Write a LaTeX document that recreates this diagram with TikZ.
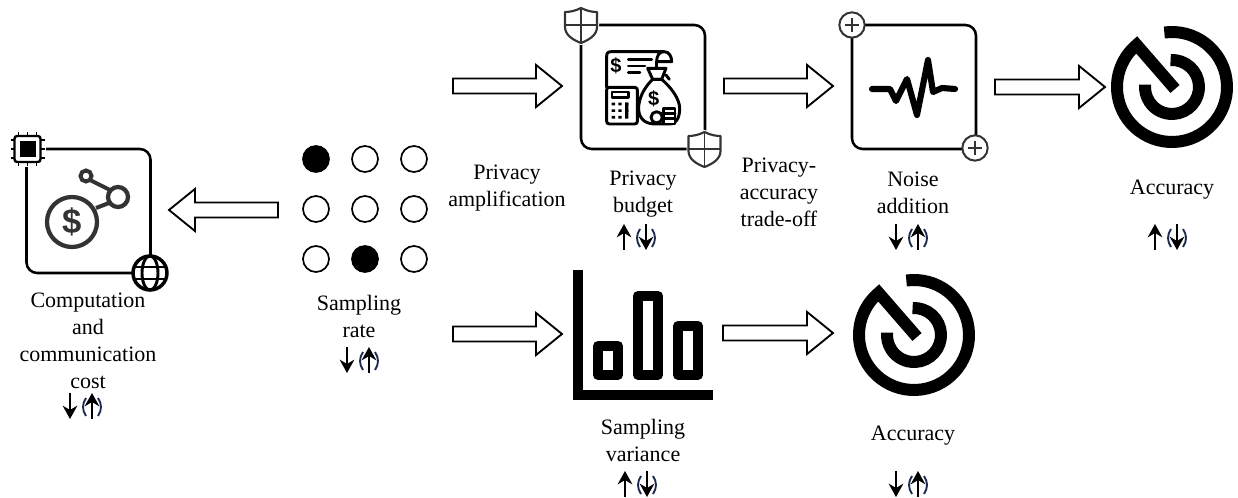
\documentclass[tikz,border=0pt]{standalone}
\usepackage{fontspec}
\setmainfont{Liberation Serif}
\newfontfamily\iconfont{Liberation Sans}
\usetikzlibrary{calc,arrows.meta}
\definecolor{icon_grey}{HTML}{333333}
\definecolor{paren_navy}{HTML}{1B2A4E}
\def\bw{5.6pt}
\def\hw{15.8pt}
\def\hl{19.5pt}
\tikzstyle{node_text} = [align=center, inner sep=0pt, font=\fontsize{16.5}{20.25}\selectfont]
\tikzstyle{node_box} = [rectangle, draw, line width=1.9pt, rounded corners=8pt, minimum size=93pt, inner sep=0pt]
\tikzstyle{node_dot} = [circle, draw, line width=1.3pt, inner sep=0pt, minimum size=19.5pt]
\tikzstyle{node_filled} = [node_dot, fill=black]
\tikzstyle{node_plus} = [circle, draw=icon_grey, fill=white, line width=1.5pt, inner sep=0pt, minimum size=19pt]
\tikzstyle{edge_block} = [draw, fill=white, line width=1.4pt, to path={
	($(\tikztostart)!\bw!90:(\tikztotarget)$)
	-- ($($(\tikztotarget)!\hl!(\tikztostart)$)!\bw!90:(\tikztotarget)$)
	-- ($($(\tikztotarget)!\hl!(\tikztostart)$)!\hw!90:(\tikztotarget)$)
	-- (\tikztotarget)
	-- ($($(\tikztotarget)!\hl!(\tikztostart)$)!\hw!-90:(\tikztotarget)$)
	-- ($($(\tikztotarget)!\hl!(\tikztostart)$)!\bw!-90:(\tikztotarget)$)
	-- ($(\tikztostart)!\bw!-90:(\tikztotarget)$) -- cycle}]
\tikzstyle{edge_thin} = [line width=1.4pt, -{Stealth[length=10pt,width=11pt]}]
\tikzstyle{edge_paren} = [draw=paren_navy, line width=1.4pt]
\tikzstyle{edge_icon} = [line width=2.2pt, line join=round, line cap=round]
\newcommand{\parens}[2]{
	\draw[edge_paren] (#1-6,#2+5) .. controls (#1-10,#2+11) and (#1-10,#2+17) .. (#1-6,#2+23);
	\draw[edge_paren] (#1+6,#2+5) .. controls (#1+10,#2+11) and (#1+10,#2+17) .. (#1+6,#2+23);
}
\newcommand{\pairup}[2]{
	\draw[edge_thin] (#1,#2+26) -- (#1,#2);
	\parens{#1+22}{#2}
	\draw[edge_thin] (#1+22,#2) -- (#1+22,#2+26);
}
\newcommand{\pairdown}[2]{
	\draw[edge_thin] (#1,#2) -- (#1,#2+26);
	\parens{#1+22}{#2}
	\draw[edge_thin] (#1+22,#2+26) -- (#1+22,#2);
}
\newcommand{\targeticon}[2]{
	\begin{scope}[shift={(#1,#2)},y=0.75pt]
		\draw[line width=9pt, line join=miter, miter limit=10] (98:55) arc[start angle=98,end angle=-230,radius=55] -- (3,-2);
		\draw[line width=9pt] (93:27) arc[start angle=93,end angle=-185,radius=27];
	\end{scope}
}
\newcommand{\shieldicon}[2]{
	\begin{scope}[shift={(#1,#2)}]
		\draw[draw=white, fill=white, line width=3pt] (0,-17) .. controls (-6,-14) and (-11,-13) .. (-16,-13) -- (-16,2) .. controls (-16,10) and (-8,15) .. (0,18) .. controls (8,15) and (16,10) .. (16,2) -- (16,-13) .. controls (11,-13) and (6,-14) .. (0,-17) -- cycle;
		\draw[draw=icon_grey, line width=1.6pt, line join=round] (0,-17) .. controls (-6,-14) and (-11,-13) .. (-16,-13) -- (-16,2) .. controls (-16,10) and (-8,15) .. (0,18) .. controls (8,15) and (16,10) .. (16,2) -- (16,-13) .. controls (11,-13) and (6,-14) .. (0,-17) -- cycle;
		\draw[draw=icon_grey, line width=1.4pt] (0,-17) -- (0,18) (-16,0) -- (16,0);
	\end{scope}
}
\begin{document}
\begin{tikzpicture}[x=0.75pt,y=-0.75pt]
		\useasboundingbox (0,0) rectangle (1238,498);

		\node (COST_BOX) at (88.5,211) [node_box] {};
		\node (BUDGET_BOX) at (643,87) [node_box] {};
		\node (NOISE_BOX) at (914,87) [node_box] {};

		\node (D1) at (316,159) [node_filled] {};
		\node (D2) at (365,159) [node_dot] {};
		\node (D3) at (414,159) [node_dot] {};
		\node (D4) at (316,209) [node_dot] {};
		\node (D5) at (365,209) [node_dot] {};
		\node (D6) at (414,209) [node_dot] {};
		\node (D7) at (316,259) [node_dot] {};
		\node (D8) at (365,259) [node_filled] {};
		\node (D9) at (414,259) [node_dot] {};

		\node (T_COST) at (88,341) [node_text] {Computation\\and\\communication\\cost};
		\node (T_RATE) at (359,316) [node_text] {Sampling\\rate};
		\node (T_AMP) at (507,188) [node_text] {Privacy\\amplification};
		\node (T_BUDGET) at (643,194) [node_text] {Privacy\\budget};
		\node (T_TRADE) at (779,192) [node_text] {Privacy-\\accuracy\\trade-off};
		\node (T_NOISE) at (913,193) [node_text] {Noise\\addition};
		\node (T_ACC_A) at (1172,190) [node_text] {Accuracy};
		\node (T_VAR) at (643,440) [node_text] {Sampling\\variance};
		\node (T_ACC_B) at (913,436) [node_text] {Accuracy};

		\coordinate (A1) at (453,86);
		\coordinate (A2) at (562,86);
		\coordinate (B1) at (724,86);
		\coordinate (B2) at (833,86);
		\coordinate (C1) at (995,87);
		\coordinate (C2) at (1105,87);
		\coordinate (E1) at (453,334);
		\coordinate (E2) at (562,334);
		\coordinate (F1) at (723,333);
		\coordinate (F2) at (833,333);
		\coordinate (G1) at (278,210);
		\coordinate (G2) at (169,210);

		\draw[edge_block] (A1) to (A2);
		\draw[edge_block] (B1) to (B2);
		\draw[edge_block] (C1) to (C2);
		\draw[edge_block] (E1) to (E2);
		\draw[edge_block] (F1) to (F2);
		\draw[edge_block] (G1) to (G2);

		\pairup{624}{224}
		\pairdown{896}{224}
		\pairup{1155}{224}
		\pairdown{70}{393}
		\pairdown{347}{347}
		\pairup{625}{471}
		\pairdown{896}{471}

		\targeticon{1172}{87}
		\targeticon{914}{335}

		% sampling variance
		\draw[line width=7.5pt, line join=miter] (578,270) -- (578,395) -- (713,395);
		\draw[line width=7.5pt, line join=round] (598,346) rectangle (618,375);
		\draw[line width=7.5pt, line join=round] (638,296) rectangle (658,375);
		\draw[line width=7.5pt, line join=round] (678,326) rectangle (698,375);

		% noise
		\draw[line width=4.6pt, line join=round, line cap=round] (872,89) -- (890,89) -- (896,101) -- (907,79) -- (917,115) -- (928,60) -- (933,92) -- (942,88) -- (955,89);
		\node (P1) at (852,25) [node_plus] {};
		\node (P2) at (975,148) [node_plus] {};
		\draw[draw=icon_grey, line width=1.4pt] (P1.center) ++(-7,0) -- ++(14,0) (P1.center) ++(0,-7) -- ++(0,14);
		\draw[draw=icon_grey, line width=1.4pt] (P2.center) ++(-7,0) -- ++(14,0) (P2.center) ++(0,-7) -- ++(0,14);

		% privacy budget
		\shieldicon{581}{25}
		\shieldicon{704.5}{149}
		\begin{scope}[shift={(560,0)},x=0.25pt,y=-0.25pt]
			\draw[edge_icon] (140,262) -- (140,168) .. controls (140,158) and (145,155) .. (155,155) -- (312,155) .. controls (328,155) and (335,170) .. (335,185) -- (290,185) .. controls (290,170) and (296,155) .. (312,155);
			\draw[edge_icon] (205,178) -- (275,178) (205,198) -- (255,198) (205,218) -- (240,218);
			\node (USD_A) at (168,198) [inner sep=0pt, font=\iconfont\bfseries\fontsize{15}{15}\selectfont] {\$};
			\draw[edge_icon] (290,185) -- (290,205);
			\draw[edge_icon] (148,262) -- (224,262) .. controls (230,262) and (232,266) .. (232,270) -- (232,364) .. controls (232,368) and (230,372) .. (224,372) -- (148,372) .. controls (142,372) and (140,368) .. (140,364) -- (140,270) .. controls (140,266) and (142,262) .. (148,262) -- cycle;
			\draw[edge_icon] (156,276) rectangle (206,292);
			\fill (155,308) rectangle ++(10,8) (175,308) rectangle ++(10,8) (195,308) rectangle ++(10,8);
			\fill (155,328) rectangle ++(10,8) (175,328) rectangle ++(10,8) (195,328) rectangle ++(10,8);
			\fill (155,348) rectangle ++(10,8) (175,348) rectangle ++(10,8) (195,308) rectangle ++(10,48);
			\draw[edge_icon, fill=white] (263,205) -- (318,205) -- (305,238) -- (278,238) -- cycle;
			\draw[edge_icon] (318,225) -- (328,238);
			\draw[edge_icon, fill=white] (278,238) .. controls (255,260) and (238,290) .. (236,320) .. controls (234,350) and (250,372) .. (285,372) -- (330,372) .. controls (352,372) and (362,345) .. (358,315) .. controls (352,285) and (325,255) .. (305,238) -- cycle;
			\node (USD_B) at (281,295) [inner sep=0pt, font=\iconfont\bfseries\fontsize{15}{15}\selectfont] {\$};
			\draw[edge_icon, fill=white] (290,352) circle (17);
			\draw[edge_icon, fill=white] (310,325) rectangle (345,372);
			\draw[edge_icon] (310,341) -- (345,341) (310,356) -- (345,356);
		\end{scope}

		% computation cost
		\draw[draw=icon_grey, line width=3.2pt] (72,222) circle (25);
		\draw[draw=icon_grey, line width=3.2pt] (118,197) circle (10);
		\draw[draw=icon_grey, line width=3pt] (86,176) circle (5.5);
		\draw[draw=icon_grey, line width=3pt] (90,180) -- (110,190);
		\draw[draw=icon_grey, line width=3pt] (96,208) -- (109,203);
		\node (USD_C) at (72,222) [inner sep=0pt, text=icon_grey, font=\iconfont\bfseries\fontsize{26}{26}\selectfont] {\$};
		\begin{scope}[shift={(27.5,149)}]
			\fill[white] (-18,-18) rectangle (18,18);
			\foreach \p in {-9,0,9} {
				\draw[line width=1.3pt] (\p,-17) -- (\p,17);
				\draw[line width=1.3pt] (-17,\p) -- (17,\p);
			}
			\draw[fill=white, line width=1.8pt, rounded corners=2pt] (-13,-13) rectangle (13,13);
			\fill (-8,-8) rectangle (8,8);
		\end{scope}
		\begin{scope}[shift={(150,273)}]
			\draw[fill=white, line width=2.6pt] (0,0) circle (17);
			\draw[line width=2.2pt] (0,0) ellipse (8 and 17);
			\draw[line width=2.2pt] (-16,-6) -- (16,-6) (-16,6) -- (16,6);
		\end{scope}
		\end{tikzpicture}
\end{document}
